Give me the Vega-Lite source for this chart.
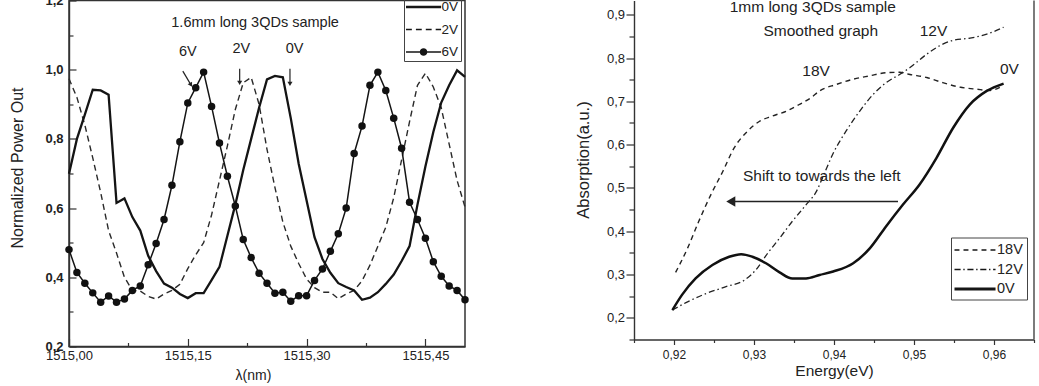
{
  "$schema": "https://vega.github.io/schema/vega-lite/v6.json",
  "background": "white",
  "padding": {"left": 9, "top": -6.5, "right": 3, "bottom": 3},
  "spacing": 83,
  "resolve": {
    "scale": {"shape": "independent"},
    "legend": {"shape": "independent"}
  },
  "config": {
    "font": "Liberation Sans",
    "axis": {
      "grid": false,
      "domainColor": "#333",
      "domainWidth": 1.4,
      "tickColor": "#333",
      "tickWidth": 1.2,
      "labelColor": "#222",
      "titleColor": "#222",
      "labelFont": "Liberation Sans",
      "titleFont": "Liberation Sans",
      "titleFontWeight": "normal",
      "labelOverlap": false,
      "labelFlush": false
    },
    "legend": {"labelFont": "Liberation Sans", "labelColor": "#222"},
    "text": {"font": "Liberation Sans", "color": "#222"}
  },
  "datasets": {
    "power": [
      {"series":"0V","wl":1515.00,"p":0.699},{"series":"0V","wl":1515.01,"p":0.80},{"series":"0V","wl":1515.02,"p":0.87},{"series":"0V","wl":1515.03,"p":0.942},{"series":"0V","wl":1515.04,"p":0.940},{"series":"0V","wl":1515.05,"p":0.928},{"series":"0V","wl":1515.06,"p":0.615},{"series":"0V","wl":1515.07,"p":0.628},{"series":"0V","wl":1515.08,"p":0.574},{"series":"0V","wl":1515.09,"p":0.535},
      {"series":"0V","wl":1515.10,"p":0.462},{"series":"0V","wl":1515.11,"p":0.418},{"series":"0V","wl":1515.12,"p":0.382},{"series":"0V","wl":1515.13,"p":0.370},{"series":"0V","wl":1515.14,"p":0.352},{"series":"0V","wl":1515.15,"p":0.340},{"series":"0V","wl":1515.16,"p":0.354},{"series":"0V","wl":1515.17,"p":0.354},{"series":"0V","wl":1515.18,"p":0.392},{"series":"0V","wl":1515.19,"p":0.43},
      {"series":"0V","wl":1515.20,"p":0.52},{"series":"0V","wl":1515.21,"p":0.61},{"series":"0V","wl":1515.22,"p":0.71},{"series":"0V","wl":1515.23,"p":0.80},{"series":"0V","wl":1515.24,"p":0.89},{"series":"0V","wl":1515.25,"p":0.972},{"series":"0V","wl":1515.26,"p":0.982},{"series":"0V","wl":1515.27,"p":0.978},{"series":"0V","wl":1515.28,"p":0.86},{"series":"0V","wl":1515.29,"p":0.728},
      {"series":"0V","wl":1515.30,"p":0.622},{"series":"0V","wl":1515.31,"p":0.516},{"series":"0V","wl":1515.32,"p":0.453},{"series":"0V","wl":1515.33,"p":0.413},{"series":"0V","wl":1515.34,"p":0.383},{"series":"0V","wl":1515.35,"p":0.372},{"series":"0V","wl":1515.36,"p":0.362},{"series":"0V","wl":1515.37,"p":0.335},{"series":"0V","wl":1515.38,"p":0.341},{"series":"0V","wl":1515.39,"p":0.357},
      {"series":"0V","wl":1515.40,"p":0.381},{"series":"0V","wl":1515.41,"p":0.408},{"series":"0V","wl":1515.42,"p":0.447},{"series":"0V","wl":1515.43,"p":0.49},{"series":"0V","wl":1515.44,"p":0.61},{"series":"0V","wl":1515.45,"p":0.72},{"series":"0V","wl":1515.46,"p":0.82},{"series":"0V","wl":1515.47,"p":0.905},{"series":"0V","wl":1515.48,"p":0.955},{"series":"0V","wl":1515.49,"p":0.998},{"series":"0V","wl":1515.50,"p":0.979},

      {"series":"2V","wl":1515.00,"p":0.974},{"series":"2V","wl":1515.01,"p":0.92},{"series":"2V","wl":1515.02,"p":0.84},{"series":"2V","wl":1515.03,"p":0.745},{"series":"2V","wl":1515.04,"p":0.645},{"series":"2V","wl":1515.05,"p":0.535},{"series":"2V","wl":1515.06,"p":0.47},{"series":"2V","wl":1515.07,"p":0.40},{"series":"2V","wl":1515.08,"p":0.362},{"series":"2V","wl":1515.09,"p":0.36},
      {"series":"2V","wl":1515.10,"p":0.345},{"series":"2V","wl":1515.11,"p":0.337},{"series":"2V","wl":1515.12,"p":0.352},{"series":"2V","wl":1515.13,"p":0.362},{"series":"2V","wl":1515.14,"p":0.38},{"series":"2V","wl":1515.15,"p":0.425},{"series":"2V","wl":1515.16,"p":0.465},{"series":"2V","wl":1515.17,"p":0.50},{"series":"2V","wl":1515.18,"p":0.58},{"series":"2V","wl":1515.19,"p":0.68},
      {"series":"2V","wl":1515.20,"p":0.78},{"series":"2V","wl":1515.21,"p":0.885},{"series":"2V","wl":1515.22,"p":0.962},{"series":"2V","wl":1515.23,"p":0.978},{"series":"2V","wl":1515.24,"p":0.90},{"series":"2V","wl":1515.25,"p":0.77},{"series":"2V","wl":1515.26,"p":0.66},{"series":"2V","wl":1515.27,"p":0.56},{"series":"2V","wl":1515.28,"p":0.49},{"series":"2V","wl":1515.29,"p":0.44},
      {"series":"2V","wl":1515.30,"p":0.395},{"series":"2V","wl":1515.31,"p":0.37},{"series":"2V","wl":1515.32,"p":0.357},{"series":"2V","wl":1515.33,"p":0.357},{"series":"2V","wl":1515.34,"p":0.338},{"series":"2V","wl":1515.35,"p":0.352},{"series":"2V","wl":1515.36,"p":0.362},{"series":"2V","wl":1515.37,"p":0.39},{"series":"2V","wl":1515.38,"p":0.435},{"series":"2V","wl":1515.39,"p":0.49},
      {"series":"2V","wl":1515.40,"p":0.545},{"series":"2V","wl":1515.41,"p":0.63},{"series":"2V","wl":1515.42,"p":0.74},{"series":"2V","wl":1515.43,"p":0.85},{"series":"2V","wl":1515.44,"p":0.955},{"series":"2V","wl":1515.45,"p":0.99},{"series":"2V","wl":1515.46,"p":0.95},{"series":"2V","wl":1515.47,"p":0.89},{"series":"2V","wl":1515.48,"p":0.785},{"series":"2V","wl":1515.49,"p":0.68},{"series":"2V","wl":1515.50,"p":0.603},

      {"series":"6V","wl":1515.00,"p":0.480},{"series":"6V","wl":1515.01,"p":0.414},{"series":"6V","wl":1515.02,"p":0.383},{"series":"6V","wl":1515.03,"p":0.355},{"series":"6V","wl":1515.04,"p":0.328},{"series":"6V","wl":1515.05,"p":0.346},{"series":"6V","wl":1515.06,"p":0.328},{"series":"6V","wl":1515.07,"p":0.337},{"series":"6V","wl":1515.08,"p":0.362},{"series":"6V","wl":1515.09,"p":0.375},
      {"series":"6V","wl":1515.10,"p":0.436},{"series":"6V","wl":1515.11,"p":0.498},{"series":"6V","wl":1515.12,"p":0.567},{"series":"6V","wl":1515.13,"p":0.666},{"series":"6V","wl":1515.14,"p":0.792},{"series":"6V","wl":1515.15,"p":0.904},{"series":"6V","wl":1515.16,"p":0.948},{"series":"6V","wl":1515.17,"p":0.993},{"series":"6V","wl":1515.18,"p":0.894},{"series":"6V","wl":1515.19,"p":0.788},
      {"series":"6V","wl":1515.20,"p":0.692},{"series":"6V","wl":1515.21,"p":0.606},{"series":"6V","wl":1515.22,"p":0.509},{"series":"6V","wl":1515.23,"p":0.457},{"series":"6V","wl":1515.24,"p":0.412},{"series":"6V","wl":1515.25,"p":0.383},{"series":"6V","wl":1515.26,"p":0.354},{"series":"6V","wl":1515.27,"p":0.357},{"series":"6V","wl":1515.28,"p":0.331},{"series":"6V","wl":1515.29,"p":0.347},
      {"series":"6V","wl":1515.30,"p":0.347},{"series":"6V","wl":1515.31,"p":0.391},{"series":"6V","wl":1515.32,"p":0.424},{"series":"6V","wl":1515.33,"p":0.475},{"series":"6V","wl":1515.34,"p":0.526},{"series":"6V","wl":1515.35,"p":0.600},{"series":"6V","wl":1515.36,"p":0.758},{"series":"6V","wl":1515.37,"p":0.837},{"series":"6V","wl":1515.38,"p":0.955},{"series":"6V","wl":1515.39,"p":0.993},
      {"series":"6V","wl":1515.40,"p":0.940},{"series":"6V","wl":1515.41,"p":0.860},{"series":"6V","wl":1515.42,"p":0.773},{"series":"6V","wl":1515.43,"p":0.617},{"series":"6V","wl":1515.44,"p":0.567},{"series":"6V","wl":1515.45,"p":0.513},{"series":"6V","wl":1515.46,"p":0.445},{"series":"6V","wl":1515.47,"p":0.403},{"series":"6V","wl":1515.48,"p":0.375},{"series":"6V","wl":1515.49,"p":0.362},{"series":"6V","wl":1515.50,"p":0.335}
    ],
    "powerNotes": [
      {"wl":1515.235,"p":1.135,"label":"1.6mm long 3QDs sample"},
      {"wl":1515.150,"p":1.050,"label":"6V"},
      {"wl":1515.2176,"p":1.061,"label":"2V"},
      {"wl":1515.2848,"p":1.061,"label":"0V"}
    ],
    "powerArrows": [
      {"arrow":"6V","wl":1515.1437,"p":0.996,"wl2":1515.1540,"p2":0.956},
      {"arrow":"2V","wl":1515.2155,"p":1.003,"wl2":1515.2155,"p2":0.962},
      {"arrow":"0V","wl":1515.2790,"p":1.003,"wl2":1515.2790,"p2":0.959}
    ],
    "absorb": [
      {"series":"18V","e":0.9202,"a":0.305},{"series":"18V","e":0.9217,"a":0.361},{"series":"18V","e":0.9231,"a":0.423},{"series":"18V","e":0.9246,"a":0.484},{"series":"18V","e":0.9261,"a":0.538},{"series":"18V","e":0.9275,"a":0.592},{"series":"18V","e":0.9292,"a":0.631},{"series":"18V","e":0.9307,"a":0.654},{"series":"18V","e":0.9323,"a":0.666},{"series":"18V","e":0.9340,"a":0.677},{"series":"18V","e":0.9357,"a":0.693},{"series":"18V","e":0.9371,"a":0.708},{"series":"18V","e":0.9382,"a":0.724},{"series":"18V","e":0.9403,"a":0.739},{"series":"18V","e":0.9424,"a":0.751},{"series":"18V","e":0.9445,"a":0.759},{"series":"18V","e":0.9465,"a":0.766},{"series":"18V","e":0.9482,"a":0.767},{"series":"18V","e":0.9495,"a":0.762},{"series":"18V","e":0.9516,"a":0.755},{"series":"18V","e":0.9536,"a":0.743},{"series":"18V","e":0.9557,"a":0.733},{"series":"18V","e":0.9578,"a":0.728},{"series":"18V","e":0.9595,"a":0.725},{"series":"18V","e":0.9610,"a":0.735},
      {"series":"12V","e":0.9198,"a":0.218},{"series":"12V","e":0.9217,"a":0.237},{"series":"12V","e":0.9240,"a":0.256},{"series":"12V","e":0.9265,"a":0.272},{"series":"12V","e":0.9288,"a":0.287},{"series":"12V","e":0.9302,"a":0.310},{"series":"12V","e":0.9317,"a":0.349},{"series":"12V","e":0.9332,"a":0.384},{"series":"12V","e":0.9348,"a":0.423},{"series":"12V","e":0.9365,"a":0.461},{"series":"12V","e":0.9378,"a":0.492},{"series":"12V","e":0.9386,"a":0.525},{"series":"12V","e":0.9399,"a":0.58},{"series":"12V","e":0.9415,"a":0.631},{"series":"12V","e":0.9432,"a":0.677},{"series":"12V","e":0.9449,"a":0.716},{"series":"12V","e":0.9465,"a":0.743},{"series":"12V","e":0.9482,"a":0.762},{"series":"12V","e":0.9495,"a":0.778},{"series":"12V","e":0.9516,"a":0.809},{"series":"12V","e":0.9536,"a":0.832},{"series":"12V","e":0.9549,"a":0.841},{"series":"12V","e":0.9570,"a":0.846},{"series":"12V","e":0.9591,"a":0.855},{"series":"12V","e":0.9612,"a":0.871},
      {"series":"0V","e":0.9198,"a":0.218},{"series":"0V","e":0.9210,"a":0.253},{"series":"0V","e":0.9227,"a":0.291},{"series":"0V","e":0.9248,"a":0.322},{"series":"0V","e":0.9269,"a":0.341},{"series":"0V","e":0.9284,"a":0.347},{"series":"0V","e":0.9298,"a":0.341},{"series":"0V","e":0.9315,"a":0.326},{"series":"0V","e":0.9332,"a":0.305},{"series":"0V","e":0.9348,"a":0.291},{"series":"0V","e":0.9365,"a":0.291},{"series":"0V","e":0.9382,"a":0.299},{"series":"0V","e":0.9399,"a":0.307},{"series":"0V","e":0.9424,"a":0.326},{"series":"0V","e":0.9445,"a":0.361},{"series":"0V","e":0.9465,"a":0.411},{"series":"0V","e":0.9486,"a":0.461},{"series":"0V","e":0.9507,"a":0.508},{"series":"0V","e":0.9528,"a":0.569},{"series":"0V","e":0.9549,"a":0.639},{"series":"0V","e":0.9570,"a":0.693},{"series":"0V","e":0.9591,"a":0.724},{"series":"0V","e":0.9612,"a":0.741}
    ],
    "absNotes": [
      {"e":0.93735,"a":0.917,"label":"1mm long 3QDs  sample"},
      {"e":0.93835,"a":0.8614,"label":"Smoothed graph"},
      {"e":0.95243,"a":0.8614,"label":"12V"},
      {"e":0.93776,"a":0.770,"label":"18V"},
      {"e":0.96192,"a":0.774,"label":"0V"},
      {"e":0.93847,"a":0.527,"label":"Shift to towards the left"}
    ],
    "absArrow": [
      {"e":0.9480,"a":0.4689,"e2":0.9271,"a2":0.4689}
    ],
    "absFrame": [
      {"e":0.965,"a":0.15,"a2":0.9328}
    ]
  },
  "hconcat": [
    {
      "width": 396,
      "height": 346,
      "view": {"stroke": "#333", "strokeWidth": 1.5},
      "encoding": {
        "x": {
          "field": "wl", "type": "quantitative",
          "scale": {"domain": [1515.0, 1515.5], "nice": false, "zero": false},
          "axis": {
            "title": "λ(nm)",
            "values": [1515.0, 1515.075, 1515.15, 1515.225, 1515.3, 1515.375, 1515.45],
            "labelExpr": "round((datum.value-1515)*1000)%150===0 ? replace(format(datum.value,'.2f'),'.',',') : ''",
            "tickSize": {"condition": {"test": "round((datum.value-1515)*1000)%150===0", "value": -8}, "value": -4},
            "labelPadding": 11,
            "labelFontSize": 13,
            "titleFontSize": 14,
            "titlePadding": 2,
            "titleX": 184
          }
        },
        "y": {
          "field": "p", "type": "quantitative",
          "scale": {"domain": [0.2, 1.2], "nice": false, "zero": false},
          "axis": {
            "title": "Normalized Power Out",
            "values": [0.2, 0.3, 0.4, 0.5, 0.6, 0.7, 0.8, 0.9, 1.0, 1.1, 1.2],
            "labelExpr": "round(datum.value*10)%2===0 ? replace(format(datum.value,'.1f'),'.',',') : ''",
            "tickSize": {"condition": {"test": "round(datum.value*10)%2===0", "value": -7}, "value": -4},
            "labelPadding": 13,
            "labelFontSize": 13,
            "labelFontWeight": "bold",
            "titleFontSize": 16,
            "titlePadding": 19,
            "titleY": 167
          }
        }
      },
      "layer": [
        {
          "data": {"name": "power"},
          "transform": [{"filter": "datum.series === '2V'"}],
          "mark": {"type": "line", "color": "#2a2a2a", "strokeWidth": 1.4, "strokeDash": [6, 4]}
        },
        {
          "data": {"name": "power"},
          "transform": [{"filter": "datum.series === '0V'"}],
          "mark": {"type": "line", "color": "#141414", "strokeWidth": 2.3}
        },
        {
          "data": {"name": "power"},
          "transform": [{"filter": "datum.series === '6V'"}],
          "mark": {"type": "line", "color": "#141414", "strokeWidth": 1.5}
        },
        {
          "data": {"name": "power"},
          "transform": [{"filter": "datum.series === '6V'"}],
          "mark": {"type": "point", "shape": "circle", "filled": true, "size": 56, "color": "#111", "opacity": 1}
        },
        {
          "data": {"name": "power"},
          "mark": {"type": "point", "filled": true, "opacity": 0, "size": 324, "color": "#161616"},
          "encoding": {
            "shape": {
              "field": "series", "type": "nominal",
              "scale": {
                "domain": ["0V", "2V", "6V"],
                "range": [
                  "M-1,-0.133H2.9V0.133H-1Z",
                  "M-1,-0.078H-0.35V0.078H-1ZM0.1,-0.078H0.75V0.078H0.1ZM1.2,-0.078H1.85V0.078H1.2ZM2.3,-0.078H2.9V0.078H2.3Z",
                  "M-1,-0.089H2.9V0.089H-1ZM0.53,0A0.42,0.42,0,1,1,1.37,0A0.42,0.42,0,1,1,0.53,0Z"
                ]
              },
              "legend": {
                "title": null, "orient": "none", "legendX": 335, "legendY": -4.5,
                "padding": 2, "rowPadding": 6.5, "symbolSize": 324, "labelOffset": 17.5,
                "labelFontSize": 13.5, "strokeColor": "#444", "symbolOpacity": 1,
                "symbolFillColor": "#161616", "symbolStrokeColor": "#161616", "symbolStrokeWidth": 0
              }
            }
          }
        },
        {
          "data": {"name": "powerNotes"},
          "mark": {"type": "text", "fontSize": 14.5, "color": "#222"},
          "encoding": {"text": {"field": "label"}}
        },
        {
          "data": {"name": "powerArrows"},
          "mark": {"type": "rule", "strokeWidth": 1.2, "color": "#222"},
          "encoding": {"x2": {"field": "wl2"}, "y2": {"field": "p2"}}
        },
        {
          "data": {"name": "powerArrows"},
          "transform": [{"filter": "datum.arrow !== '6V'"}],
          "mark": {"type": "point", "shape": "triangle-down", "filled": true, "size": 26, "color": "#222", "opacity": 1},
          "encoding": {"x": {"field": "wl2", "type": "quantitative"}, "y": {"field": "p2", "type": "quantitative"}}
        },
        {
          "data": {"name": "powerArrows"},
          "transform": [{"filter": "datum.arrow === '6V'"}],
          "mark": {"type": "point", "shape": "triangle-down", "angle": 330, "filled": true, "size": 26, "color": "#222", "opacity": 1},
          "encoding": {"x": {"field": "wl2", "type": "quantitative"}, "y": {"field": "p2", "type": "quantitative"}}
        }
      ]
    },
    {
      "width": 400,
      "height": 339,
      "view": {"stroke": null},
      "encoding": {
        "x": {
          "field": "e", "type": "quantitative",
          "scale": {"domain": [0.915, 0.965], "nice": false, "zero": false},
          "axis": {
            "title": "Energy(eV)",
            "values": [0.915, 0.92, 0.925, 0.93, 0.935, 0.94, 0.945, 0.95, 0.955, 0.96, 0.965],
            "labelExpr": "round(datum.value*1000)%10===0 ? replace(format(datum.value,'.2f'),'.',',') : ''",
            "tickSize": {"condition": {"test": "round(datum.value*1000)%10===0", "value": 5}, "value": 3},
            "labelPadding": 5,
            "labelFontSize": 12,
            "titleFontSize": 15.5,
            "titlePadding": 3
          }
        },
        "y": {
          "field": "a", "type": "quantitative",
          "scale": {"domain": [0.15, 0.9328], "nice": false, "zero": false},
          "axis": {
            "title": "Absorption(a.u.)",
            "values": [0.15, 0.2, 0.25, 0.3, 0.35, 0.4, 0.45, 0.5, 0.55, 0.6, 0.65, 0.7, 0.75, 0.8, 0.85, 0.9],
            "labelExpr": "round(datum.value*100)%10===0 ? replace(format(datum.value,'.1f'),'.',',') : ''",
            "tickSize": {"condition": {"test": "round(datum.value*100)%10===0", "value": 8}, "value": 5},
            "labelPadding": 1.5,
            "labelFontSize": 13,
            "titleFontSize": 16.5,
            "titlePadding": 14.5,
            "titleY": 159
          }
        }
      },
      "layer": [
        {
          "data": {"name": "absorb"},
          "transform": [{"filter": "datum.series === '18V'"}],
          "mark": {"type": "line", "interpolate": "monotone", "color": "#222", "strokeWidth": 1.4, "strokeDash": [5, 4]}
        },
        {
          "data": {"name": "absorb"},
          "transform": [{"filter": "datum.series === '12V'"}],
          "mark": {"type": "line", "interpolate": "monotone", "color": "#222", "strokeWidth": 1.3, "strokeDash": [6, 3, 1.5, 3]}
        },
        {
          "data": {"name": "absorb"},
          "transform": [{"filter": "datum.series === '0V'"}],
          "mark": {"type": "line", "interpolate": "monotone", "color": "#111", "strokeWidth": 2.5}
        },
        {
          "data": {"name": "absorb"},
          "mark": {"type": "point", "filled": true, "opacity": 0, "size": 324, "color": "#161616"},
          "encoding": {
            "shape": {
              "field": "series", "type": "nominal",
              "scale": {
                "domain": ["18V", "12V", "0V"],
                "range": [
                  "M-1,-0.078H-0.45V0.078H-1ZM0,-0.078H0.55V0.078H0ZM1,-0.078H1.55V0.078H1ZM2,-0.078H2.55V0.078H2ZM3,-0.078H3.55V0.078H3Z",
                  "M-1,-0.072H-0.32V0.072H-1ZM-0.02,-0.072H0.13V0.072H-0.02ZM0.43,-0.072H1.11V0.072H0.43ZM1.41,-0.072H1.56V0.072H1.41ZM1.86,-0.072H2.54V0.072H1.86ZM2.84,-0.072H2.99V0.072H2.84ZM3.29,-0.072H3.56V0.072H3.29Z",
                  "M-1,-0.155H3.56V0.155H-1Z"
                ]
              },
              "legend": {
                "title": null, "orient": "none", "legendX": 317, "legendY": 237,
                "padding": 3.5, "rowPadding": 3.5, "symbolSize": 324, "labelOffset": 24.5,
                "labelFontSize": 14.5, "strokeColor": "#444", "symbolOpacity": 1,
                "symbolFillColor": "#161616", "symbolStrokeColor": "#161616", "symbolStrokeWidth": 0
              }
            }
          }
        },
        {
          "data": {"name": "absNotes"},
          "mark": {"type": "text", "fontSize": 15.5, "color": "#222"},
          "encoding": {"text": {"field": "label"}}
        },
        {
          "data": {"name": "absArrow"},
          "mark": {"type": "rule", "strokeWidth": 1.5, "color": "#222"},
          "encoding": {"x2": {"field": "e2"}, "y2": {"field": "a2"}}
        },
        {
          "data": {"name": "absArrow"},
          "mark": {"type": "point", "shape": "triangle-left", "filled": true, "size": 110, "color": "#222", "opacity": 1},
          "encoding": {"x": {"field": "e2", "type": "quantitative"}, "y": {"field": "a2", "type": "quantitative"}}
        },
        {
          "data": {"name": "absFrame"},
          "mark": {"type": "rule", "strokeWidth": 1.4, "color": "#444"},
          "encoding": {"y2": {"field": "a2"}}
        }
      ]
    }
  ]
}
